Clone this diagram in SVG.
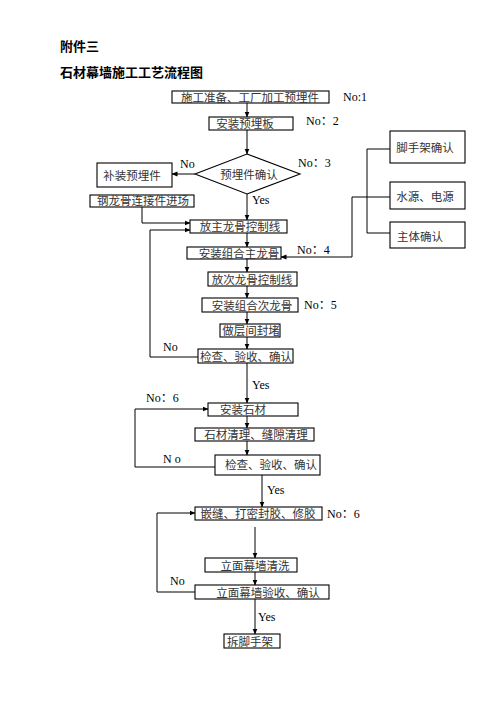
<svg xmlns="http://www.w3.org/2000/svg" width="496" height="702" viewBox="0 0 496 702">
<style>
.b{fill:#fff;stroke:#000;stroke-width:1.1}
.t{font-family:"Noto Sans CJK SC","Liberation Serif",serif;font-size:11.5px;fill:#333;text-anchor:middle}
.l{font-family:"Liberation Serif","Noto Sans CJK SC",serif;font-size:12px;fill:#000}
.h{font-family:"Noto Sans CJK SC",sans-serif;font-size:13px;font-weight:bold;fill:#000}
.c{fill:none;stroke:#000;stroke-width:1}
</style>
<defs>
<marker id="a" markerWidth="6" markerHeight="6" refX="5.5" refY="3" orient="auto" markerUnits="userSpaceOnUse">
<path d="M0,0.5 L6,3 L0,5.5 Z" fill="#000"/>
</marker>
</defs>
<rect width="496" height="702" fill="#fff"/>
<text class="h" x="60" y="51">附件三</text>
<text class="h" x="60" y="77">石材幕墙施工工艺流程图</text>

<g id="connectors">
<path class="c" d="M247,103 V117" marker-end="url(#a)"/>
<path class="c" d="M247,130 V154" marker-end="url(#a)"/>
<path class="c" d="M195,174 H172" marker-end="url(#a)"/>
<path class="c" d="M247,194 V220" marker-end="url(#a)"/>
<path class="c" d="M142,207 V223 H190" marker-end="url(#a)"/>
<path class="c" d="M198,357 H150 V230 H190" marker-end="url(#a)"/>
<path class="c" d="M247,233 V247" marker-end="url(#a)"/>
<path class="c" d="M390,197 H352 V257 H281" marker-end="url(#a)"/>
<path class="c" d="M390,149 H367 V233 H390"/>
<path class="c" d="M247,259 V272" marker-end="url(#a)"/>
<path class="c" d="M247,286 V298" marker-end="url(#a)"/>
<path class="c" d="M247,312 V324" marker-end="url(#a)"/>
<path class="c" d="M247,337 V349" marker-end="url(#a)"/>
<path class="c" d="M247,363 V403" marker-end="url(#a)"/>
<path class="c" d="M247,416 V428" marker-end="url(#a)"/>
<path class="c" d="M247,441 V455" marker-end="url(#a)"/>
<path class="c" d="M215,467 H135 V409 H208" marker-end="url(#a)"/>
<path class="c" d="M262,475 V507" marker-end="url(#a)"/>
<path class="c" d="M195,592 H157 V513 H195" marker-end="url(#a)"/>
<path class="c" d="M255,527 V558" marker-end="url(#a)"/>
<path class="c" d="M255,572 V585" marker-end="url(#a)"/>
<path class="c" d="M255,599 V634" marker-end="url(#a)"/>
</g>

<g id="n1"><rect class="b" x="172" y="91" width="157" height="12"/><text class="t" x="250" y="101.5" font-size="12">施工准备、工厂加工预埋件</text></g>
<text class="l" x="343" y="101">No:1</text>
<g id="n2"><rect class="b" x="209" y="117" width="84" height="13"/><text class="t" x="245" y="128">安装预埋板</text></g>
<text class="l" x="306" y="125">No：2</text>
<g id="n3"><path class="b" d="M247,154 L300,174 L247,194 L195,174 Z"/><text class="t" x="249" y="179">预埋件确认</text></g>
<text class="l" x="298" y="167">No：3</text>
<text class="l" x="180" y="168" font-size="10">No</text>
<text class="l" x="252" y="204" font-size="11">Yes</text>
<g id="n4"><rect class="b" x="97" y="163" width="75" height="24"/><text class="t" x="132" y="180">补装预埋件</text></g>
<g id="n5"><rect class="b" x="90" y="195" width="104" height="12"/><text class="t" x="143" y="205" font-size="12">钢龙骨连接件进场</text></g>
<g id="n6"><rect class="b" x="390" y="131" width="75" height="32"/><text class="t" x="425" y="152">脚手架确认</text></g>
<g id="n7"><rect class="b" x="390" y="182" width="75" height="27"/><text class="t" x="425" y="201">水源、电源</text></g>
<g id="n8"><rect class="b" x="390" y="222" width="75" height="26"/><text class="t" x="420" y="241">主体确认</text></g>
<g id="n9"><rect class="b" x="190" y="220" width="97" height="13"/><text class="t" x="240" y="231">放主龙骨控制线</text></g>
<g id="n10"><rect class="b" x="187" y="247" width="94" height="12"/><text class="t" x="239" y="257.5">安装组合主龙骨</text></g>
<text class="l" x="297" y="254">No：4</text>
<g id="n11"><rect class="b" x="208" y="272" width="89" height="14"/><text class="t" x="252" y="283.5">放次龙骨控制线</text></g>
<g id="n12"><rect class="b" x="202" y="298" width="96" height="14"/><text class="t" x="252" y="309.5">安装组合次龙骨</text></g>
<text class="l" x="304" y="309">No：5</text>
<g id="n13"><rect class="b" x="220" y="324" width="60" height="13"/><text class="t" x="251" y="335">做层间封堵</text></g>
<g id="n14"><rect class="b" x="198" y="349" width="95" height="14"/><text class="t" x="246" y="360.5">检查、验收、确认</text></g>
<text class="l" x="163" y="351">No</text>
<text class="l" x="252" y="389" font-size="11">Yes</text>
<g id="n15"><rect class="b" x="208" y="403" width="90" height="13"/><text class="t" x="243" y="414">安装石材</text></g>
<text class="l" x="146" y="402">No：6</text>
<g id="n16"><rect class="b" x="195" y="428" width="119" height="13"/><text class="t" x="256" y="439">石材清理、缝隙清理</text></g>
<g id="n17"><rect class="b" x="215" y="455" width="105" height="20"/><text class="t" x="271" y="469">检查、验收、确认</text></g>
<text class="l" x="163" y="463" letter-spacing="3">No</text>
<text class="l" x="267" y="494" font-size="11">Yes</text>
<g id="n18"><rect class="b" x="195" y="507" width="127" height="13"/><text class="t" x="258" y="518">嵌缝、打密封胶、修胶</text></g>
<text class="l" x="327" y="518">No：6</text>
<g id="n19"><rect class="b" x="205" y="558" width="92" height="14"/><text class="t" x="255" y="569.5">立面幕墙清洗</text></g>
<g id="n20"><rect class="b" x="195" y="585" width="134" height="14"/><text class="t" x="268" y="596.5">立面幕墙验收、确认</text></g>
<text class="l" x="170" y="585">No</text>
<text class="l" x="258" y="621" font-size="11">Yes</text>
<g id="n21"><rect class="b" x="224" y="634" width="56" height="14"/><text class="t" x="250" y="645.5">拆脚手架</text></g>
</svg>
